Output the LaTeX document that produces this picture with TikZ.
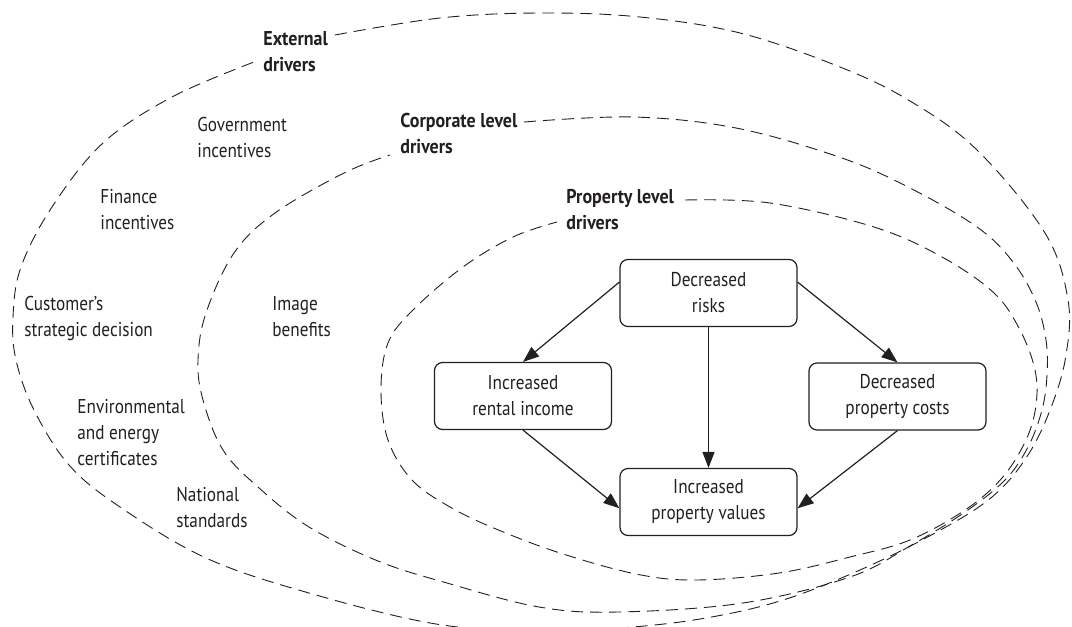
\documentclass[tikz,border=0pt]{standalone}
\usepackage{fontspec}
\setmainfont[FakeStretch=0.86]{PT Sans}
\newfontfamily\headfont[FakeStretch=0.9]{PT Sans}
\usetikzlibrary{arrows.meta}

\definecolor{ink}{HTML}{231F20}

\begin{document}
\begin{tikzpicture}[x=0.5pt,y=-0.5pt,
        lbl/.style={anchor=base west,align=left,inner sep=0pt,text=ink,font=\fontsize{10}{13}\selectfont},
        hdr/.style={lbl,font=\fontsize{10}{13}\selectfont\headfont\bfseries},
        box/.style={draw=ink,line width=0.6pt,rounded corners=4pt,minimum width=88.5pt,minimum height=33.5pt,align=center,text=ink,inner sep=2pt,font=\fontsize{10}{13}\selectfont},
        arr/.style={draw=ink,line width=0.6pt,-{Triangle[length=8pt,width=6pt]}},
        ring/.style={draw=ink,line width=0.45pt,dash pattern=on 6pt off 3.5pt}]
        \useasboundingbox (0,0) rectangle (1072,627);
        \draw[ring] plot[smooth,tension=0.6] coordinates {(335,35) (440,18) (540,13) (640,17) (740,33) (840,67) (910,101) (977,150) (1045,233) (1068,300) (1066,355) (1052,405) (1028,455) (992,497) (935,533) (860,570) (780,601) (700,619) (620,628) (540,631) (436,624) (309,593) (206,558) (120,507) (69,465) (34,410) (16,360) (13,317) (21,267) (52,207) (103,143) (172,97) (254,62)};
        \draw[ring] plot[smooth,tension=0.6] coordinates {(524,122) (633,117) (736,128) (839,157) (908,187) (977,227) (1013,262) (1036,302) (1046,340) (1047,375) (1042,410) (1028,447) (1005,480) (965,512) (910,546) (850,577) (743,603) (618,612) (539,607) (447,583) (378,561) (309,527) (258,487) (223,450) (203,400) (198,360) (206,313) (234,253) (275,213) (344,173) (390,155)};
        \draw[ring] plot[smooth,tension=0.6] coordinates {(685,200) (770,203) (874,227) (942,257) (994,293) (1020,330) (1035,370) (1036,405) (1026,440) (1002,478) (965,510) (910,540) (850,557) (779,573) (696,580) (636,574) (560,553) (496,529) (450,507) (412,480) (388,440) (381,390) (388,343) (413,310) (463,267) (513,237) (557,222)};
        \node[hdr] (ext) at (263,71) {External\\drivers};
        \node[hdr] (corp) at (400,153) {Corporate level\\drivers};
        \node[hdr] (prop) at (566,229) {Property level\\drivers};
        \node[lbl] (gov) at (197,157) {Government\\incentives};
        \node[lbl] (fin) at (100,229) {Finance\\incentives};
        \node[lbl] (cust) at (24,336) {Customer's\\strategic decision};
        \node[lbl] (env) at (77,465) {Environmental\\and energy\\certificates};
        \node[lbl] (nat) at (176,527) {National\\standards};
        \node[lbl] (img) at (272,336) {Image\\benefits};
        \node[box] (risks) at (708.5,293) {Decreased\\risks};
        \node[box] (rental) at (523,396) {Increased\\rental income};
        \node[box] (costs) at (897.5,396.5) {Decreased\\property costs};
        \node[box] (values) at (708.5,502) {Increased\\property values};
        \foreach \a/\b in {risks.173/rental.north, risks.7/costs.north, risks.south/values.north, rental.south/values.184, costs.south/values.-4}
            \draw[arr] (\a) -- (\b);
    \end{tikzpicture}
\end{document}
